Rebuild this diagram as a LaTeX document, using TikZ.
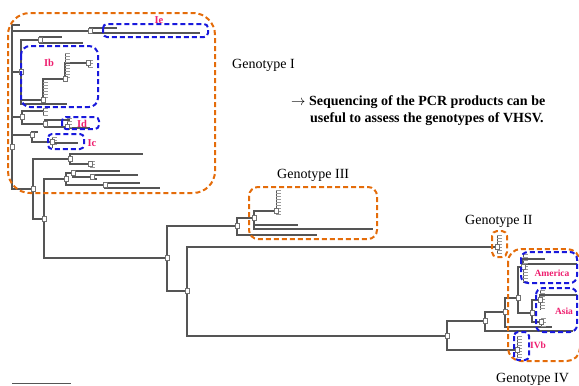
\documentclass[tikz,border=0pt]{standalone}
\usepackage{fontspec}
\setmainfont{Liberation Serif}
\usetikzlibrary{positioning}
\definecolor{genoorange}{RGB}{228,108,10}
\definecolor{subblue}{RGB}{25,25,220}
\definecolor{labpink}{RGB}{238,30,110}
\definecolor{astgrau}{RGB}{85,85,85}

% comb of tiny leaves: x, y top, y bottom, second y
\newcommand{\kamm}[4]{%
  \draw[astgrau, line width=0.7pt] (#1,#2) -- (#1,#3);
  \foreach \yy in {#2,#4,...,#3} \draw[stub] (#1,\yy) -- ++(5,0);
}

\begin{document}
\begin{tikzpicture}[x=1pt, y=-1pt,
  branch/.style={draw=astgrau, line width=1.2pt},
  stub/.style={draw=black!40, line width=0.9pt},
  knot/.style={rectangle, draw=black!55, fill=white, line width=0.5pt,
    minimum width=3.5pt, minimum height=5pt, inner sep=0pt},
  genobox/.style={draw=genoorange, line width=2pt, dash pattern=on 5pt off 3pt},
  subbox/.style={draw=subblue, line width=2pt, dash pattern=on 5pt off 3pt},
  sublabel/.style={text=labpink, font=\fontsize{10.5}{12}\selectfont\bfseries, inner sep=0pt},
  genolabel/.style={font=\fontsize{14}{17}\selectfont, inner sep=0pt, anchor=base west},
  message/.style={font=\fontsize{14}{17}\selectfont\bfseries, inner sep=0pt, anchor=base west}]

\useasboundingbox (0,0) rectangle (579,386);

% Genotype I
\coordinate (gI) at (12,147);
\coordinate (l1) at (20,25);
\coordinate (ie) at (90,31);
\coordinate (ie1) at (117,28);
\coordinate (ie2) at (200,33);
\coordinate (ia) at (21,72);
\coordinate (ia1) at (40,40);
\coordinate (ia11) at (62,37);
\coordinate (ia12) at (83,43);
\coordinate (ib) at (43,100);
\coordinate (ibt) at (65,79);
\coordinate (ibt1) at (88,63);
\coordinate (ia2) at (67,104);
\coordinate (iz) at (22,117);
\coordinate (iz1) at (43,111);
\coordinate (id) at (45,124);
\coordinate (id1) at (70,120);
\coordinate (id2) at (67,127);
\coordinate (id21) at (90,128);
\coordinate (ic) at (32,135);
\coordinate (ic0) at (38,132);
\coordinate (ic1) at (52,142);
\coordinate (ic11) at (78,143);
\coordinate (n33) at (33,189);
\coordinate (la) at (70,159);
\coordinate (la1) at (143,154);
\coordinate (la2) at (90,164);
\coordinate (n44) at (44,219);
\coordinate (lb) at (66,179);
\coordinate (lb1) at (73,173);
\coordinate (lb11) at (120,171);
\coordinate (lb12) at (92,177);
\coordinate (lb121) at (138,175);
\coordinate (lb122) at (97,179);
\coordinate (lb2) at (105,185);
\coordinate (lb21) at (140,183);
\coordinate (lb22) at (160,188);

% Genotype III
\coordinate (n167) at (167,258);
\coordinate (n237) at (237,226);
\coordinate (n254) at (254,218);
\coordinate (g3a) at (276,211);
\coordinate (g3b) at (298,225);
\coordinate (g3c) at (373,229);
\coordinate (g3d) at (317,235);

% Genotype II and IV
\coordinate (n187) at (187,291);
\coordinate (g2) at (497,247);
\coordinate (n447) at (447,336);
\coordinate (n485) at (485,321);
\coordinate (n505) at (505,312);
\coordinate (n518) at (518,298);
\coordinate (am) at (523,267);
\coordinate (am1) at (545,259);
\coordinate (am2) at (577,264);
\coordinate (as) at (532,313);
\coordinate (as1) at (540,300);
\coordinate (as11) at (577,295);
\coordinate (as2) at (541,322);
\coordinate (g4y) at (552,327);
\coordinate (g4z) at (573,331);
\coordinate (ivb) at (517,350);

\foreach \p/\c in {gI/l1, gI/ie, ie/ie1, ie/ie2, gI/ia, ia/ia1, ia1/ia11, ia1/ia12,
    ia/ib, ib/ibt, ibt/ibt1, ia/ia2, gI/iz, iz/iz1, iz/id, id/id1, id/id2, id2/id21,
    gI/ic, ic/ic0, ic/ic1, ic1/ic11, gI/n33, n33/la, la/la1, la/la2, n33/n44,
    n44/lb, lb/lb1, lb1/lb11, lb1/lb12, lb12/lb121, lb12/lb122, lb/lb2, lb2/lb21, lb2/lb22,
    n44/n167, n167/n237, n237/n254, n254/g3a, n254/g3b, n254/g3c, n237/g3d,
    n167/n187, n187/g2, n187/n447, n447/n485, n485/n505, n505/n518,
    n518/am, am/am1, am/am2, n518/as, as/as1, as1/as11, as/as2,
    n505/g4y, n485/g4z, n447/ivb}
  \draw[branch] (\p) |- (\c);

% combs of tiny leaves
\kamm{43}{82}{98}{85};
\kamm{65}{53}{77}{56};
\kamm{88}{60}{67}{63.5};
\kamm{43}{108}{115}{111.5};
\kamm{67}{118}{128}{121.3};
\kamm{52}{137}{148}{140.7};
\kamm{90}{161}{167}{164};
\kamm{276}{190}{215}{193};
\kamm{497}{235}{253}{238};
\kamm{523}{254}{283}{257};
\kamm{540}{290}{310}{293};
\kamm{541}{318}{326}{322};
\kamm{517}{336}{358}{339};

\foreach \n in {gI, ie, ia, ia1, ib, ibt, ibt1, iz, id, id2, ic, ic1, n33, la, la2, n44,
    lb, lb1, lb12, lb2, n167, n237, n254, g3a, n187, g2, n447, n485, n505, n518,
    am, as, as1, as2, ivb}
  \node[knot] (k-\n) at (\n) {};

% scale bar
\coordinate (sb1) at (12,383);
\coordinate (sb2) at (71,383);
\draw[branch, line width=0.8pt] (sb1) -- (sb2);

% genotype boxes
\draw[genobox, rounded corners=22pt] (8,13) rectangle (215,193);
\draw[genobox, rounded corners=9pt] (249,187) rectangle (377,239);
\draw[genobox, rounded corners=5pt] (492,231) rectangle (507,257);
\draw[genobox, rounded corners=13pt] (508,249) rectangle (580,361);

% subgroup boxes
\draw[subbox, rounded corners=4pt] (103,24) rectangle (208,37);
\draw[subbox, rounded corners=9pt] (21,46) rectangle (98,107);
\draw[subbox, rounded corners=4pt] (62,117) rectangle (99,129);
\draw[subbox, rounded corners=4pt] (48,134) rectangle (84,149);
\draw[subbox, rounded corners=7pt] (521,252) rectangle (577,283);
\draw[subbox, rounded corners=7pt] (536,288) rectangle (577,332);
\draw[subbox, rounded corners=4pt] (514,332) rectangle (529,360);

% subgroup labels
\node[sublabel] (lab-ie) at (159,20) {Ie};
\node[sublabel] (lab-ib) at (49,63) {Ib};
\node[sublabel] (lab-id) at (82,124) {Id};
\node[sublabel] (lab-ic) at (92,143) {Ic};
\node[sublabel, font=\fontsize{9.5}{11}\selectfont\bfseries] (lab-am) at (552,273) {America};
\node[sublabel, font=\fontsize{9.5}{11}\selectfont\bfseries] (lab-as) at (564,311) {Asia};
\node[sublabel, font=\fontsize{9.5}{11}\selectfont\bfseries] (lab-ivb) at (538,345) {IVb};

% genotype labels
\node[genolabel] (geno1) at (232,68) {Genotype I};
\node[genolabel] (geno3) at (277,178) {Genotype III};
\node[genolabel] (geno2) at (465,224) {Genotype II};
\node[genolabel] (geno4) at (496,382) {Genotype IV};

% message
\node[message] (msg1) at (291,105) {$\rightarrow$ Sequencing of the PCR products can be};
\node[message] (msg2) at (310,122) {useful to assess the genotypes of VHSV.};

\end{tikzpicture}
\end{document}
